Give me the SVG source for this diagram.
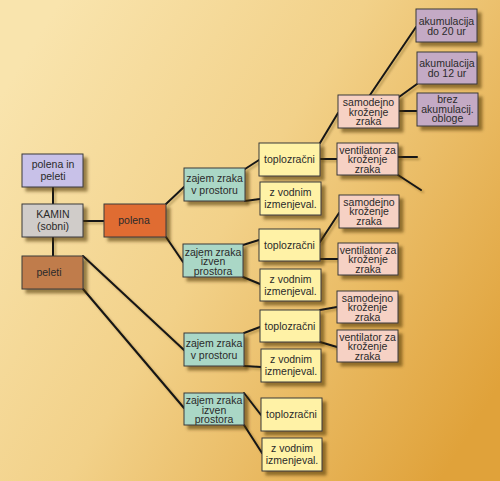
<svg xmlns="http://www.w3.org/2000/svg" width="500" height="481" viewBox="0 0 500 481">
<defs>
<linearGradient id="bg" x1="0" y1="0.2" x2="1" y2="0.8">
<stop offset="0" stop-color="#f9e4ad"/>
<stop offset="0.45" stop-color="#f2d189"/>
<stop offset="1" stop-color="#e0a23a"/>
</linearGradient>
<filter id="sh" x="-20%" y="-20%" width="150%" height="160%">
<feDropShadow dx="4" dy="4" stdDeviation="1.8" flood-color="#4a3000" flood-opacity="0.55"/>
</filter>
<filter id="lsh" x="-10%" y="-10%" width="130%" height="130%">
<feDropShadow dx="2" dy="2" stdDeviation="1" flood-color="#4a3000" flood-opacity="0.35"/>
</filter>
</defs>
<style>
.b{stroke:#3a3a3a;stroke-width:1;filter:url(#sh)}
.lav{fill:#c8c1e8}.gry{fill:#d0ccc9}.brn{fill:#c07c4c}.org{fill:#e06c30}
.tea{fill:#aad7c6}.yel{fill:#fff2a6}.pnk{fill:#f6d1c4}.mau{fill:#c4aac5}
text{font-family:"Liberation Sans",Arial,sans-serif;font-size:10.5px;fill:#2a2a2a;text-anchor:middle}
.c line,.c polyline{stroke:#151515;stroke-width:2;fill:none;stroke-linecap:round}
</style>
<rect width="500" height="481" fill="url(#bg)"/>
<g class="c" id="connectors" filter="url(#lsh)">
<line x1="53" y1="187" x2="53" y2="204"/>
<line x1="53" y1="237" x2="53" y2="256"/>
<line x1="83" y1="221" x2="104" y2="221"/>
<line x1="166" y1="204" x2="184" y2="187"/>
<line x1="166" y1="237" x2="183" y2="262"/>
<line x1="245" y1="169" x2="259" y2="160"/>
<line x1="245" y1="201" x2="260" y2="199"/>
<line x1="243" y1="245" x2="259" y2="240"/>
<line x1="243" y1="277" x2="260" y2="284"/>
<line x1="320" y1="143" x2="338" y2="113"/>
<line x1="320" y1="159" x2="337" y2="159"/>
<line x1="370" y1="95" x2="416" y2="27"/>
<line x1="399" y1="97" x2="417" y2="84"/>
<line x1="399" y1="111" x2="417" y2="111"/>
<line x1="398" y1="157" x2="417" y2="157"/>
<line x1="398" y1="175" x2="421" y2="190"/>
<line x1="320" y1="242" x2="339" y2="213"/>
<line x1="320" y1="259" x2="338" y2="259"/>
<line x1="244" y1="333" x2="260" y2="327"/>
<line x1="244" y1="366" x2="261" y2="367"/>
<line x1="320" y1="310" x2="337" y2="307"/>
<line x1="320" y1="342" x2="337" y2="347"/>
<line x1="244" y1="393" x2="261" y2="415"/>
<line x1="244" y1="425" x2="262" y2="453"/>
<line x1="83" y1="256" x2="184" y2="350"/>
<line x1="83" y1="289" x2="184" y2="408"/>
</g>
<g id="n-pip"><rect class="b lav" x="22" y="154" width="61" height="33"/><text x="53" y="168">polena in</text><text x="53" y="180">peleti</text></g>
<g id="n-kamin"><rect class="b gry" x="22" y="204" width="61" height="33"/><text x="53" y="218">KAMIN</text><text x="53" y="230">(sobni)</text></g>
<g id="n-peleti"><rect class="b brn" x="22" y="256" width="61" height="33"/><text x="49" y="276">peleti</text></g>
<g id="n-polena"><rect class="b org" x="104" y="204" width="62" height="33"/><text x="134" y="224">polena</text></g>
<g id="n-zv1"><rect class="b tea" x="184" y="168" width="61" height="33"/><text x="214.5" y="182">zajem zraka</text><text x="214.5" y="194">v prostoru</text></g>
<g id="n-zi1"><rect class="b tea" x="183" y="244" width="60" height="33"/><text x="213" y="255.5">zajem zraka</text><text x="213" y="265">izven</text><text x="213" y="274.5">prostora</text></g>
<g id="n-t1"><rect class="b yel" x="259" y="143" width="61" height="33"/><text x="289.5" y="163">toplozračni</text></g>
<g id="n-v1"><rect class="b yel" x="260" y="182" width="61" height="33"/><text x="290.5" y="196">z vodnim</text><text x="290.5" y="208">izmenjeval.</text></g>
<g id="n-t2"><rect class="b yel" x="259" y="229" width="61" height="32"/><text x="289.5" y="249">toplozračni</text></g>
<g id="n-v2"><rect class="b yel" x="260" y="269" width="61" height="32"/><text x="290.5" y="282.5">z vodnim</text><text x="290.5" y="294.5">izmenjeval.</text></g>
<g id="n-s1"><rect class="b pnk" x="338" y="95" width="61" height="33"/><text x="368.5" y="105.5">samodejno</text><text x="368.5" y="115.5">kroženje</text><text x="368.5" y="125">zraka</text></g>
<g id="n-f1"><rect class="b pnk" x="337" y="143" width="61" height="32"/><text x="367.5" y="153.5">ventilator za</text><text x="367.5" y="163">kroženje</text><text x="367.5" y="172.5">zraka</text></g>
<g id="n-a20"><rect class="b mau" x="416" y="9" width="61" height="33"/><text x="446.5" y="24.5">akumulacija</text><text x="446.5" y="34.5">do 20 ur</text></g>
<g id="n-a12"><rect class="b mau" x="417" y="52" width="60" height="32"/><text x="447" y="66.5">akumulacija</text><text x="447" y="76.5">do 12 ur</text></g>
<g id="n-brez"><rect class="b mau" x="417" y="93" width="61" height="33"/><text x="447.5" y="103">brez</text><text x="447.5" y="112.5">akumulacij.</text><text x="447.5" y="122">obloge</text></g>
<g id="n-s2"><rect class="b pnk" x="339" y="195" width="60" height="33"/><text x="369" y="205.5">samodejno</text><text x="369" y="215">kroženje</text><text x="369" y="224.5">zraka</text></g>
<g id="n-f2"><rect class="b pnk" x="338" y="243" width="60" height="32"/><text x="368" y="253.5">ventilator za</text><text x="368" y="263">kroženje</text><text x="368" y="272.5">zraka</text></g>
<g id="n-s3"><rect class="b pnk" x="337" y="291" width="61" height="32"/><text x="367.5" y="301.5">samodejno</text><text x="367.5" y="311">kroženje</text><text x="367.5" y="320.5">zraka</text></g>
<g id="n-f3"><rect class="b pnk" x="337" y="330" width="61" height="32"/><text x="367.5" y="340.5">ventilator za</text><text x="367.5" y="350">kroženje</text><text x="367.5" y="359.5">zraka</text></g>
<g id="n-zv2"><rect class="b tea" x="184" y="333" width="60" height="33"/><text x="214" y="347">zajem zraka</text><text x="214" y="359">v prostoru</text></g>
<g id="n-zi2"><rect class="b tea" x="184" y="393" width="60" height="32"/><text x="214" y="404">zajem zraka</text><text x="214" y="413.5">izven</text><text x="214" y="423">prostora</text></g>
<g id="n-t3"><rect class="b yel" x="260" y="310" width="60" height="32"/><text x="290" y="330">toplozračni</text></g>
<g id="n-v3"><rect class="b yel" x="261" y="349" width="60" height="33"/><text x="291" y="363">z vodnim</text><text x="291" y="375">izmenjeval.</text></g>
<g id="n-t4"><rect class="b yel" x="261" y="398" width="61" height="33"/><text x="291.5" y="418">toplozračni</text></g>
<g id="n-v4"><rect class="b yel" x="262" y="438" width="60" height="33"/><text x="292" y="451.5">z vodnim</text><text x="292" y="463.5">izmenjeval.</text></g>
</svg>
